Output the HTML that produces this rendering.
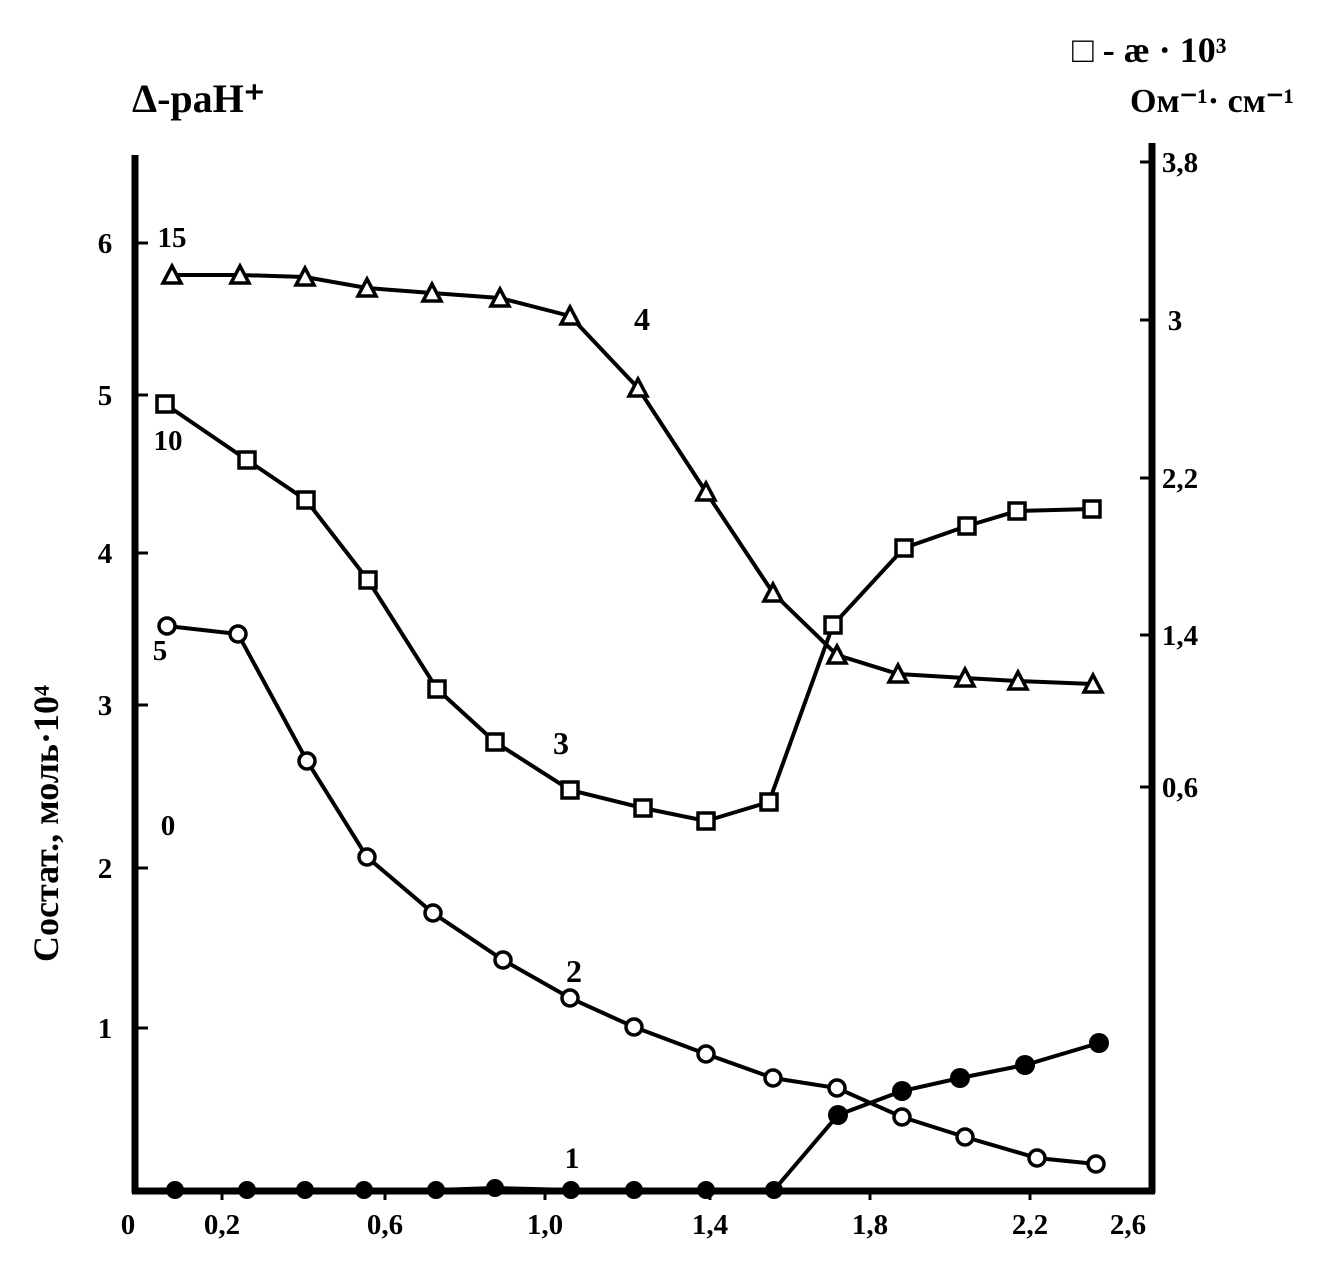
<!DOCTYPE html>
<html><head><meta charset="utf-8"><style>
body{margin:0;background:#fff}
svg text{font-family:"Liberation Serif",serif;fill:#000;font-weight:bold}
</style></head><body>
<svg width="1328" height="1268" viewBox="0 0 1328 1268" xmlns="http://www.w3.org/2000/svg">
<g stroke="#000" stroke-width="7" fill="none">
<line x1="135" y1="155" x2="135" y2="1193"/>
<line x1="1152" y1="143" x2="1152" y2="1193"/>
<line x1="132" y1="1191" x2="1155" y2="1191"/>
</g>
<g stroke="#000" stroke-width="3">
<line x1="135" y1="243" x2="148" y2="243"/><line x1="135" y1="395" x2="148" y2="395"/>
<line x1="135" y1="553" x2="148" y2="553"/><line x1="135" y1="705" x2="148" y2="705"/>
<line x1="135" y1="868" x2="148" y2="868"/><line x1="135" y1="1028" x2="148" y2="1028"/>
<line x1="1140" y1="162" x2="1152" y2="162"/><line x1="1140" y1="320" x2="1152" y2="320"/>
<line x1="1140" y1="478" x2="1152" y2="478"/><line x1="1140" y1="635" x2="1152" y2="635"/>
<line x1="1140" y1="787" x2="1152" y2="787"/>
<line x1="222" y1="1191" x2="222" y2="1200"/><line x1="385" y1="1191" x2="385" y2="1200"/>
<line x1="545" y1="1191" x2="545" y2="1200"/><line x1="710" y1="1191" x2="710" y2="1200"/>
<line x1="870" y1="1191" x2="870" y2="1200"/><line x1="1030" y1="1191" x2="1030" y2="1200"/>
</g>
<g font-size="29" text-anchor="middle">
<text x="128" y="1234">0</text><text x="222" y="1234">0,2</text><text x="385" y="1234">0,6</text>
<text x="545" y="1234">1,0</text><text x="710" y="1234">1,4</text><text x="870" y="1234">1,8</text>
<text x="1030" y="1234">2,2</text><text x="1128" y="1234">2,6</text>
<text x="105" y="253">6</text><text x="105" y="405">5</text><text x="105" y="563">4</text>
<text x="105" y="715">3</text><text x="105" y="878">2</text><text x="105" y="1038">1</text>
<text x="172" y="247">15</text><text x="168" y="450">10</text><text x="160" y="660">5</text><text x="168" y="835">0</text>
<text x="1180" y="172">3,8</text><text x="1175" y="330">3</text><text x="1180" y="488">2,2</text>
<text x="1180" y="645">1,4</text><text x="1180" y="797">0,6</text>
<text x="642" y="330" font-size="32">4</text><text x="561" y="754" font-size="32">3</text>
<text x="574" y="982" font-size="32">2</text><text x="572" y="1168" font-size="30">1</text>
</g>
<text x="132" y="112" font-size="40">Δ-paH⁺</text>
<text x="1072" y="62" font-size="36">□ - æ · 10³</text>
<text x="1130" y="112" font-size="34">Ом⁻¹· см⁻¹</text>
<text transform="translate(58,962) rotate(-90)" font-size="36">Состат., моль·10⁴</text>
<g stroke="#000" stroke-width="4" fill="none">
<polyline points="172,275 240,275 305,277 367,288 432,293 500,298 570,316 638,388 706,492 773,593 837,655 898,674 965,678 1018,681 1093,684"/>
<polyline points="165,404 247,460 306,500 368,580 437,689 495,742 570,790 643,808 706,821 769,802 833,625 904,548 967,526 1017,511 1092,509"/>
<polyline points="167,626 238,634 307,761 367,857 433,913 503,960 570,998 634,1027 706,1054 773,1078 837,1088 902,1117 965,1137 1037,1158 1096,1164"/>
<polyline points="175,1190 247,1190 305,1190 364,1190 436,1190 495,1188 571,1190 634,1190 706,1190 774,1190 838,1115 902,1091 960,1078 1025,1065 1099,1043"/>
</g>
<g stroke="#000" stroke-width="3.5" fill="#fff">
<polygon points="172,266 163,283 181,283"/><polygon points="240,266 231,283 249,283"/><polygon points="305,268 296,285 314,285"/>
<polygon points="367,279 358,296 376,296"/><polygon points="432,284 423,301 441,301"/><polygon points="500,289 491,306 509,306"/>
<polygon points="570,307 561,324 579,324"/><polygon points="638,379 629,396 647,396"/><polygon points="706,483 697,500 715,500"/>
<polygon points="773,584 764,601 782,601"/><polygon points="837,646 828,663 846,663"/><polygon points="898,665 889,682 907,682"/>
<polygon points="965,669 956,686 974,686"/><polygon points="1018,672 1009,689 1027,689"/><polygon points="1093,675 1084,692 1102,692"/>
<rect x="157" y="396" width="16" height="16"/><rect x="239" y="452" width="16" height="16"/><rect x="298" y="492" width="16" height="16"/>
<rect x="360" y="572" width="16" height="16"/><rect x="429" y="681" width="16" height="16"/><rect x="487" y="734" width="16" height="16"/>
<rect x="562" y="782" width="16" height="16"/><rect x="635" y="800" width="16" height="16"/><rect x="698" y="813" width="16" height="16"/>
<rect x="761" y="794" width="16" height="16"/><rect x="825" y="617" width="16" height="16"/><rect x="896" y="540" width="16" height="16"/>
<rect x="959" y="518" width="16" height="16"/><rect x="1009" y="503" width="16" height="16"/><rect x="1084" y="501" width="16" height="16"/>
<circle cx="167" cy="626" r="8"/><circle cx="238" cy="634" r="8"/><circle cx="307" cy="761" r="8"/><circle cx="367" cy="857" r="8"/>
<circle cx="433" cy="913" r="8"/><circle cx="503" cy="960" r="8"/><circle cx="570" cy="998" r="8"/><circle cx="634" cy="1027" r="8"/>
<circle cx="706" cy="1054" r="8"/><circle cx="773" cy="1078" r="8"/><circle cx="837" cy="1088" r="8"/><circle cx="902" cy="1117" r="8"/>
<circle cx="965" cy="1137" r="8"/><circle cx="1037" cy="1158" r="8"/><circle cx="1096" cy="1164" r="8"/>
</g>
<g fill="#000">
<circle cx="175" cy="1190" r="9"/><circle cx="247" cy="1190" r="9"/><circle cx="305" cy="1190" r="9"/><circle cx="364" cy="1190" r="9"/>
<circle cx="436" cy="1190" r="9"/><circle cx="495" cy="1188" r="9"/><circle cx="571" cy="1190" r="9"/><circle cx="634" cy="1190" r="9"/>
<circle cx="706" cy="1190" r="9"/><circle cx="774" cy="1190" r="9"/><circle cx="838" cy="1115" r="10"/><circle cx="902" cy="1091" r="10"/>
<circle cx="960" cy="1078" r="10"/><circle cx="1025" cy="1065" r="10"/><circle cx="1099" cy="1043" r="10"/>
</g>
</svg>
</body></html>
